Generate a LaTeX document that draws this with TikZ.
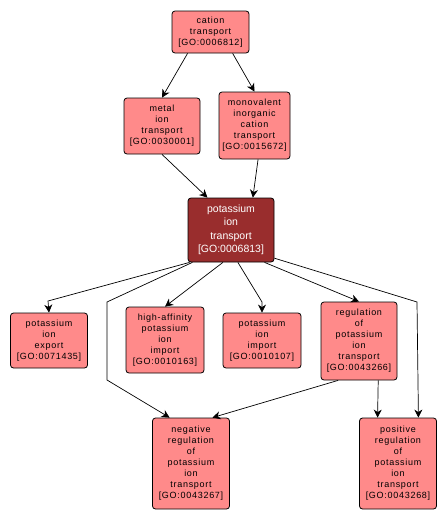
\documentclass[tikz,border=0pt]{standalone}
\usepackage{fontspec}
\newfontfamily\termfont[LetterSpace=8]{Liberation Sans}
\newfontfamily\keyfont{Liberation Sans}
\usetikzlibrary{positioning}
\usetikzlibrary{arrows.meta}
\definecolor{termfill}{RGB}{255,138,138}
\definecolor{keyfill}{RGB}{153,45,45}

\begin{document}
\begin{tikzpicture}[x=1pt, y=-1pt,
        term/.style={draw, rounded corners=3pt, fill=termfill, align=center, inner sep=0pt,
            font=\termfont\fontsize{9}{11}\selectfont, line width=0.8pt},
        key/.style={term, fill=keyfill, text=white, font=\keyfont\fontsize{10.5}{13.5}\selectfont},
        edge/.style={line width=0.7pt, -{Stealth[length=8pt, width=8pt, inset=2.5pt]}}]
            \useasboundingbox (0,0) rectangle (447,522);

            \node[term, minimum width=77pt, minimum height=42pt] (cat) at (210.5,32) {cation\\transport\\{[GO:0006812]}};
            \node[term, minimum width=76pt, minimum height=56pt] (metal) at (162,126) {metal\\ion\\transport\\{[GO:0030001]}};
            \node[term, minimum width=71pt, minimum height=67pt] (mono) at (254.5,125.5) {monovalent\\inorganic\\cation\\transport\\{[GO:0015672]}};
            \node[key, minimum width=86pt, minimum height=64pt] (K) at (231,230) {potassium\\ion\\transport\\{[GO:0006813]}};
            \node[term, minimum width=77pt, minimum height=55pt] (exp) at (49,340.5) {potassium\\ion\\export\\{[GO:0071435]}};
            \node[term, minimum width=78pt, minimum height=66pt] (haff) at (165,340) {high-affinity\\potassium\\ion\\import\\{[GO:0010163]}};
            \node[term, minimum width=78pt, minimum height=55pt] (imp) at (262,340.5) {potassium\\ion\\import\\{[GO:0010107]}};
            \node[term, minimum width=76pt, minimum height=78pt] (reg) at (359,341) {regulation\\of\\potassium\\ion\\transport\\{[GO:0043266]}};
            \node[term, minimum width=77pt, minimum height=91pt] (neg) at (191,463.5) {negative\\regulation\\of\\potassium\\ion\\transport\\{[GO:0043267]}};
            \node[term, minimum width=77pt, minimum height=91pt] (pos) at (398,463.5) {positive\\regulation\\of\\potassium\\ion\\transport\\{[GO:0043268]}};

            \draw[edge] (cat.-137) -- (metal.north);
            \draw[edge] (cat.-44) -- (mono.north);
            \draw[edge] (metal.south) -- (K.126);
            \draw[edge] (mono.-84) -- (K.56);
            \draw[edge] (K.-142) -- (48,301) -- (exp.north);
            \draw[edge] (K.-104) -- (haff.north);
            \draw[edge] (K.-78) -- (262,302) -- (imp.north);
            \draw[edge] (K.-44) -- (reg.north);
            \draw[edge] (K.-140) -- (107,302) -- (107,380) -- (neg.115);
            \draw[edge] (K.-33) -- (417,302) -- (pos.66);
            \draw[edge] (reg.-118) -- (neg.65);
            \draw[edge] (reg.-64) -- (pos.114);
        \end{tikzpicture}
\end{document}
